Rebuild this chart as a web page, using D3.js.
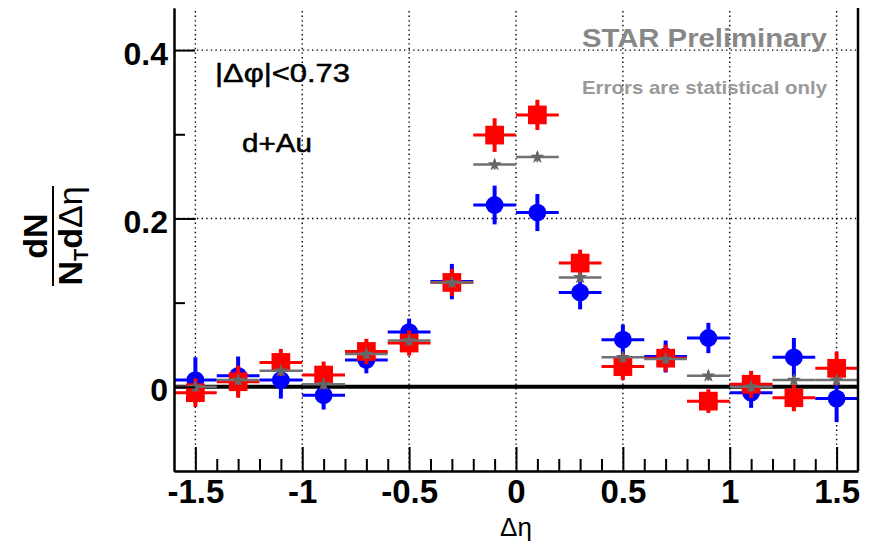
<!DOCTYPE html>
<html>
<head>
<meta charset="utf-8">
<script src="https://cdn.jsdelivr.net/npm/d3@7"></script>
<style>
  html, body { margin: 0; padding: 0; background: #fff; }
  svg { display: block; font-family: "Liberation Sans", Arial, Helvetica, sans-serif; }
</style>
</head>
<body>
<svg id="chart" width="874" height="547"></svg>
<script>
// Δη bin centres (bin width 0.2)
const etaBins = [-1.5, -1.3, -1.1, -0.9, -0.7, -0.5, -0.3, -0.1, 0.1, 0.3, 0.5, 0.7, 0.9, 1.1, 1.3, 1.5];
const binHalfWidth = 0.1;

// red squares
const redValues = [-0.007, 0.006, 0.029, 0.014, 0.042, 0.052, 0.124, 0.299, 0.323, 0.147, 0.024, 0.034, -0.017, 0.003, -0.013, 0.022];
const redErrors = [0.017, 0.019, 0.016, 0.016, 0.015, 0.015, 0.016, 0.02, 0.018, 0.016, 0.016, 0.016, 0.014, 0.016, 0.016, 0.02];

// blue circles
const blueValues = [0.008, 0.013, 0.008, -0.010, 0.032, 0.065, 0.125, 0.216, 0.207, 0.112, 0.056, 0.036, 0.058, -0.007, 0.035, -0.014];
const blueErrors = [0.027, 0.023, 0.022, 0.017, 0.016, 0.016, 0.021, 0.023, 0.022, 0.02, 0.018, 0.019, 0.018, 0.018, 0.023, 0.028];

// grey stars
const greyValues = [0.0, 0.008, 0.019, 0.003, 0.039, 0.055, 0.124, 0.264, 0.273, 0.130, 0.035, 0.033, 0.013, 0.0, 0.008, 0.008];
const greyErrors = [0.006, 0.006, 0.006, 0.006, 0.006, 0.006, 0.006, 0.006, 0.006, 0.006, 0.006, 0.006, 0.006, 0.006, 0.006, 0.006];

// axis ticks
const xMajorTicks = [-1.5, -1, -0.5, 0, 0.5, 1, 1.5];
const xMinorTicks = d3.range(-15, 16).map(d => d / 10);
const yMajorTicks = [0, 0.2, 0.4];
const yMinorTicks = [0.1, 0.3];
const xTickLabels = ["-1.5", "-1", "-0.5", "0", "0.5", "1", "1.5"];
const yTickLabels = ["0", "0.2", "0.4"];

const frame = { left: 174, right: 858, top: 8, bottom: 471 };
const svg = d3.select("#chart");

const x = d3.scaleLinear().domain([-1.6, 1.6]).range([frame.left, frame.right]);
const y = d3.scaleLinear().domain([-0.1, 0.45]).range([frame.bottom, frame.top]);

// dotted grid
const grid = svg.append("g").attr("stroke", "#000").attr("stroke-width", 1.4)
  .attr("stroke-dasharray", "1.4,3.2");
grid.selectAll("line.v").data(xMajorTicks).join("line").attr("class", "v")
  .attr("x1", d => x(d)).attr("x2", d => x(d))
  .attr("y1", frame.top + 3).attr("y2", frame.bottom);
grid.selectAll("line.h").data([0.2, 0.4]).join("line").attr("class", "h")
  .attr("x1", frame.left).attr("x2", frame.right)
  .attr("y1", d => y(d)).attr("y2", d => y(d));

// zero reference line
svg.append("line")
  .attr("x1", frame.left).attr("x2", frame.right)
  .attr("y1", y(0)).attr("y2", y(0))
  .attr("stroke", "#000").attr("stroke-width", 4);

// one data series: horizontal bin bars, vertical error bars, markers
function drawSeries(values, errors, color, opts) {
  const g = svg.append("g");
  const pts = etaBins.map((e, i) => ({ e, v: values[i], err: errors[i] }));
  g.selectAll("line.hx").data(pts).join("line")
    .attr("x1", d => x(d.e - binHalfWidth)).attr("x2", d => x(d.e + binHalfWidth))
    .attr("y1", d => y(d.v)).attr("y2", d => y(d.v))
    .attr("stroke", opts.barColor || color).attr("stroke-width", opts.hWidth);
  g.selectAll("line.vy").data(pts).join("line")
    .attr("x1", d => x(d.e)).attr("x2", d => x(d.e))
    .attr("y1", d => y(d.v - d.err)).attr("y2", d => y(d.v + d.err))
    .attr("stroke", opts.barColor || color).attr("stroke-width", opts.vWidth);
  g.selectAll("path.m").data(pts).join("path")
    .attr("transform", d => `translate(${x(d.e)},${y(d.v)})`)
    .attr("d", d3.symbol().type(opts.symbol).size(opts.size)())
    .attr("fill", color);
}

drawSeries(blueValues, blueErrors, "#0000ff", { symbol: d3.symbolCircle, size: 250, hWidth: 3, vWidth: 4 });
drawSeries(redValues, redErrors, "#ff0000", { symbol: d3.symbolSquare, size: 350, hWidth: 3, vWidth: 4 });
drawSeries(greyValues, greyErrors, "#666666", { symbol: d3.symbolStar, size: 60, hWidth: 2.5, vWidth: 2, barColor: "#707070" });

// axes
const xAxis = d3.axisBottom(x).tickValues(xMajorTicks)
  .tickFormat((d, i) => xTickLabels[i]).tickSizeInner(-24).tickSizeOuter(0).tickPadding(9);
const xMinor = d3.axisBottom(x).tickValues(xMinorTicks.filter(d => !xMajorTicks.some(m => Math.abs(m - d) < 1e-9)))
  .tickFormat("").tickSizeInner(-12).tickSizeOuter(0);
const yAxis = d3.axisLeft(y).tickValues(yMajorTicks)
  .tickFormat((d, i) => yTickLabels[i]).tickSizeInner(-21).tickSizeOuter(0).tickPadding(6);
const yMinor = d3.axisLeft(y).tickValues(yMinorTicks)
  .tickFormat("").tickSizeInner(-11).tickSizeOuter(0);

function styleAxis(g) {
  g.select(".domain").attr("stroke", "#000").attr("stroke-width", 2);
  g.selectAll(".tick line").attr("stroke", "#000").attr("stroke-width", 2);
  g.selectAll(".tick text").attr("fill", "#000").attr("font-weight", "bold")
    .attr("font-family", "'Liberation Sans', Arial, sans-serif");
}

svg.append("g").attr("transform", `translate(0,${frame.bottom})`).call(xMinor).call(styleAxis);
svg.append("g").attr("transform", `translate(0,${frame.bottom})`).call(xAxis).call(styleAxis)
  .selectAll(".tick text").attr("font-size", 33);
svg.append("g").attr("transform", `translate(${frame.left},0)`).call(yMinor).call(styleAxis);
svg.append("g").attr("transform", `translate(${frame.left},0)`).call(yAxis).call(styleAxis)
  .selectAll(".tick text").attr("font-size", 32).attr("dy", "0.44em");

// right frame edge
svg.append("line")
  .attr("x1", frame.right).attr("x2", frame.right)
  .attr("y1", frame.top).attr("y2", frame.bottom)
  .attr("stroke", "#000").attr("stroke-width", 2.5);

// axis titles
svg.append("text")
  .attr("x", x(0)).attr("y", 536)
  .attr("text-anchor", "middle").attr("font-size", 26)
  .text("Δη");

const yTitle = svg.append("g").attr("transform", "translate(53,236) rotate(-90)");
yTitle.append("text").attr("x", 0).attr("y", -6)
  .attr("text-anchor", "middle").attr("font-size", 34).attr("font-weight", "bold")
  .text("dN");
yTitle.append("line").attr("x1", -50).attr("x2", 50).attr("y1", 0).attr("y2", 0)
  .attr("stroke", "#000").attr("stroke-width", 2);
const den = yTitle.append("text").attr("x", 0).attr("y", 29)
  .attr("text-anchor", "middle").attr("font-size", 34);
den.append("tspan").attr("font-weight", "bold").text("N");
den.append("tspan").attr("font-weight", "bold").attr("font-size", 20).attr("dy", 6).text("T");
den.append("tspan").attr("font-weight", "bold").attr("dy", -6).text("d");
den.append("tspan").text("Δη");

// annotations
svg.append("text").attr("x", 215).attr("y", 82)
  .attr("font-size", 26).attr("textLength", 135).attr("lengthAdjust", "spacingAndGlyphs")
  .attr("stroke", "#000").attr("stroke-width", 0.5)
  .text("|Δφ|<0.73");
svg.append("text").attr("x", 242).attr("y", 152)
  .attr("font-size", 26).attr("textLength", 70).attr("lengthAdjust", "spacingAndGlyphs")
  .attr("stroke", "#000").attr("stroke-width", 0.5)
  .text("d+Au");
svg.append("text").attr("x", 582).attr("y", 47)
  .attr("font-size", 25).attr("font-weight", "bold").attr("fill", "#888")
  .attr("textLength", 245).attr("lengthAdjust", "spacingAndGlyphs")
  .text("STAR Preliminary");
svg.append("text").attr("x", 582).attr("y", 94)
  .attr("font-size", 19).attr("font-weight", "bold").attr("fill", "#999")
  .attr("textLength", 245).attr("lengthAdjust", "spacingAndGlyphs")
  .text("Errors are statistical only");
</script>
</body>
</html>
